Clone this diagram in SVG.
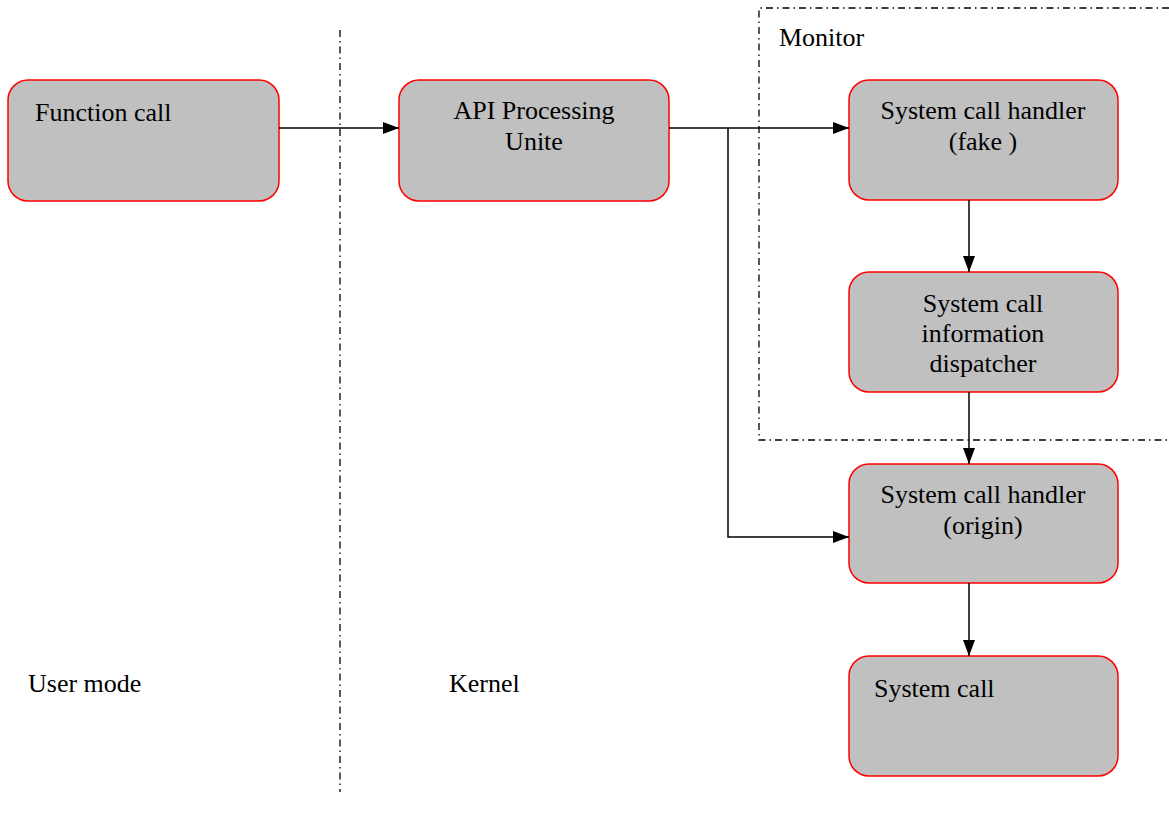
<svg xmlns="http://www.w3.org/2000/svg" width="1169" height="816" viewBox="0 0 1169 816" font-family="'Liberation Serif', 'Times New Roman', 'DejaVu Serif', serif">
<style>
.node rect{fill:#c0c0c0;stroke:#ff0000;stroke-width:1.5}
text{font-family:'Liberation Serif', 'Times New Roman', 'DejaVu Serif', serif;font-size:26px;fill:#000}
.c{text-anchor:middle}
.conn path{fill:none;stroke:#000;stroke-width:1.5}
.dd{fill:none;stroke:#000;stroke-width:1.3;stroke-dasharray:7,4,1.5,4}
</style>
<defs>
<marker id="arr2" viewBox="0 0 16 12" refX="16" refY="6" markerWidth="16" markerHeight="12" markerUnits="userSpaceOnUse" orient="auto"><path d="M0,0 L16,6 L0,12 z" fill="#000"/></marker>
</defs>
<line class="dd" x1="340" y1="30" x2="340" y2="792"/>
<path class="dd" d="M1169,8 H759 V440 H1169"/>
<text x="779" y="46">Monitor</text>
<text x="28" y="692">User mode</text>
<text x="449" y="692">Kernel</text>
<g id="n-function" class="node"><rect x="8" y="80" width="271" height="121" rx="20"/><text x="35" y="121">Function call</text></g>
<g id="n-api" class="node"><rect x="399" y="80" width="270" height="121" rx="20"/><text class="c" x="534" y="119">API Processing</text><text class="c" x="534" y="150">Unite</text></g>
<g id="n-fake" class="node"><rect x="849" y="80" width="269" height="120" rx="20"/><text class="c" x="983" y="119">System call handler</text><text class="c" x="983" y="150">(fake )</text></g>
<g id="n-dispatcher" class="node"><rect x="849" y="272" width="269" height="120" rx="20"/><text class="c" x="983" y="312">System call</text><text class="c" x="983" y="342">information</text><text class="c" x="983" y="372">dispatcher</text></g>
<g id="n-origin" class="node"><rect x="849" y="464" width="269" height="119" rx="20"/><text class="c" x="983" y="503">System call handler</text><text class="c" x="983" y="534">(origin)</text></g>
<g id="n-syscall" class="node"><rect x="849" y="656" width="269" height="120" rx="20"/><text x="874" y="697">System call</text></g>
<g id="connectors" class="conn">
<path d="M279,128 H399" marker-end="url(#arr2)"/>
<path d="M669,128 H849" marker-end="url(#arr2)"/>
<path d="M728,128 V537 H849" marker-end="url(#arr2)"/>
<path d="M969,200 V272" marker-end="url(#arr2)"/>
<path d="M969,392 V464" marker-end="url(#arr2)"/>
<path d="M969,583 V656" marker-end="url(#arr2)"/>
</g>
</svg>
